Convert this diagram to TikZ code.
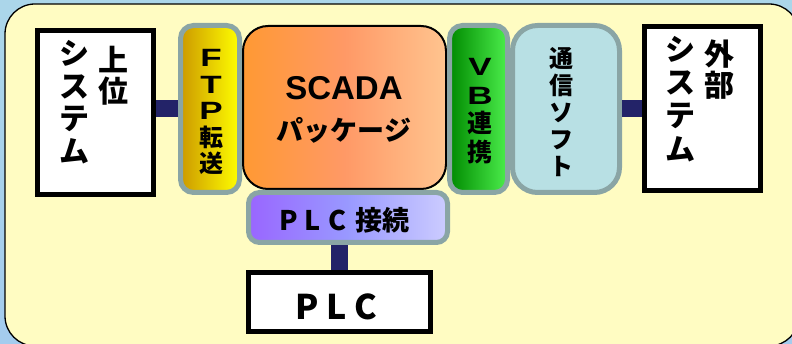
\documentclass[tikz,border=0pt]{standalone}
\usepackage{fontspec}
\usepackage{graphicx}
\setmainfont{Noto Sans CJK JP}
\newfontfamily\lat{Liberation Sans}
\usetikzlibrary{calc}
\definecolor{bgblue}{HTML}{ABD6EA}
\definecolor{bgblue2}{HTML}{A4CCEE}
\definecolor{panel}{HTML}{FFFCC2}
\definecolor{navy}{HTML}{232368}
\definecolor{boxgray}{HTML}{8AA5A5}
\definecolor{softblue}{HTML}{B8E0E4}
\definecolor{goldL}{HTML}{CC9900}
\definecolor{goldR}{HTML}{FFFF00}
\definecolor{orL}{HTML}{FF9933}
\definecolor{orM}{HTML}{FF9966}
\definecolor{orR}{HTML}{FFC48F}
\definecolor{grL}{HTML}{008A00}
\definecolor{grR}{HTML}{4CEE4C}
\definecolor{puL}{HTML}{9966FF}
\definecolor{puM}{HTML}{9999FF}
\definecolor{puR}{HTML}{CCCCFF}
\newcommand{\widelet}[1]{\scalebox{1.4}[1]{{\lat\bfseries\fontsize{25}{25}\selectfont #1}}}
\tikzset{
  blackbox/.style={draw=black, line width=5pt, fill=white, inner sep=0pt},
  graybox/.style={draw=boxgray, line width=5pt, inner sep=0pt},
  conn/.style={draw=navy, line width=17pt},
  jtext/.style={align=center, inner sep=0pt, text=black},
}
\begin{document}
\begin{tikzpicture}[x=1pt,y=-1pt]
\shade[top color=bgblue, bottom color=bgblue2] (0,0) rectangle (792,344);
\useasboundingbox (0,0) rectangle (792,344);
\draw[fill=panel, draw=black, line width=1.3pt, rounded corners=30pt] (5,4) rectangle (799,346);

% boxes
\node[blackbox, minimum width=116pt, minimum height=164pt] (upper) at (95.5,112.5) {};
\node[blackbox, minimum width=116pt, minimum height=164pt] (ext) at (702.5,108.5) {};
\node[blackbox, minimum width=182pt, minimum height=59pt] (plc) at (339.5,302) {};
\node[graybox, rounded corners=13pt, left color=goldL, right color=goldR,
      minimum width=59pt, minimum height=167pt] (ftp) at (210,109) {};
\node[draw=black, line width=2pt, inner sep=0pt, rounded corners=25pt,
      left color=orL, right color=orR, middle color=orM,
      minimum width=203pt, minimum height=163pt] (scada) at (344.5,107.5) {};
\node[graybox, rounded corners=13pt, left color=grL, right color=grR,
      minimum width=58pt, minimum height=167pt] (vb) at (478.5,109) {};
\node[graybox, rounded corners=25pt, fill=softblue,
      minimum width=107pt, minimum height=167pt] (soft) at (566,109) {};
\node[graybox, rounded corners=11pt, left color=puL, right color=puR, middle color=puM,
      minimum width=199pt, minimum height=50pt] (plcconn) at (348,217.5) {};

% connectors
\draw[conn] (ftp.west) -- (ftp.west -| upper.east);
\draw[conn] (soft.east) -- (soft.east -| ext.west);
\draw[conn] (plc.north) -- (plc.north |- plcconn.south);

% texts
\node[jtext, font=\bfseries\fontsize{30}{31}\selectfont] (upR) at (113,76) {上\\位};
\node[jtext, font=\bfseries\fontsize{30}{32.5}\selectfont] (upL) at (74,102) {シ\\ス\\テ\\ム};
\node[jtext, font=\bfseries\fontsize{30}{31}\selectfont] (extR) at (719,69.5) {外\\部};
\node[jtext, font=\bfseries\fontsize{30}{33.3}\selectfont] (extL) at (680,99) {シ\\ス\\テ\\ム};
\node[jtext, font=\bfseries\fontsize{24}{26.5}\selectfont] (ftpT) at (211,112)
  {\widelet{F}\\\widelet{T}\\\widelet{P}\\転\\送};
\node[jtext, font=\bfseries\fontsize{25}{28.5}\selectfont] (vbT) at (480,111)
  {\widelet{V}\\\widelet{B}\\連\\携};
\node[jtext, font=\bfseries\fontsize{24}{27}\selectfont] (softT) at (561,112)
  {通\\信\\ソ\\フ\\ト};
\node[jtext, font=\bfseries\fontsize{27}{41}\selectfont] (scadaT) at (344,110)
  {{\lat\fontsize{33}{33}\selectfont SCADA}\\パッケージ};
\node[jtext, font=\bfseries\fontsize{27}{27}\selectfont] (plcconnT) at (343,220)
  {\makebox[24.5pt]{P}\makebox[24.5pt]{L}\makebox[24.5pt]{C}\hspace{6pt}接続};
\node[jtext, font=\bfseries\fontsize{34}{34}\selectfont] (plcT) at (336.5,306.5)
  {\makebox[29pt]{P}\makebox[29pt]{L}\makebox[29pt]{C}};
\end{tikzpicture}
\end{document}
